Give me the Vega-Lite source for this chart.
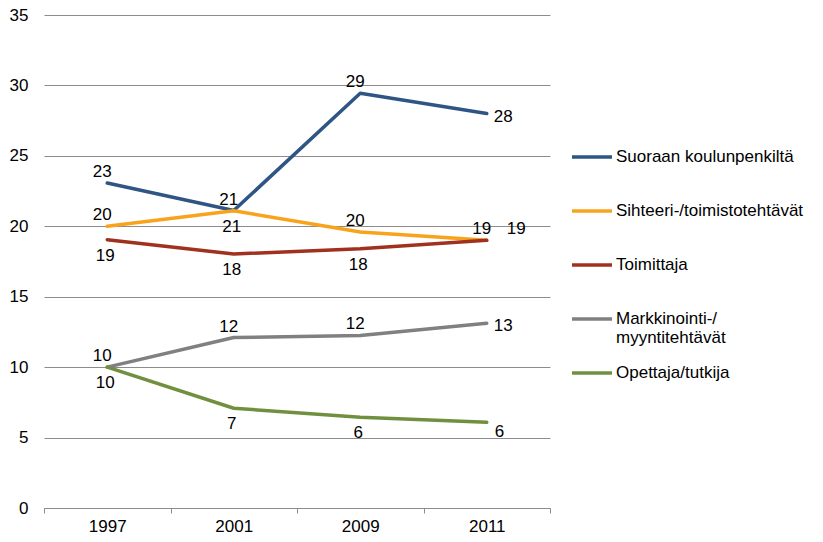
{
  "$schema": "https://vega.github.io/schema/vega-lite/v6.json",
  "width": 506,
  "height": 493,
  "autosize": "none",
  "padding": {"left": 44, "top": 15, "right": 273, "bottom": 34},
  "background": "white",
  "config": {
    "font": "Liberation Sans",
    "view": {"stroke": null},
    "text": {"font": "Liberation Sans", "fontSize": 17, "color": "#000"}
  },
  "data": {
    "values": [
      {"series": "Suoraan koulunpenkiltä", "year": "1997", "value": 23.07},
      {"series": "Suoraan koulunpenkiltä", "year": "2001", "value": 21.12},
      {"series": "Suoraan koulunpenkiltä", "year": "2009", "value": 29.44},
      {"series": "Suoraan koulunpenkiltä", "year": "2011", "value": 28.0},
      {"series": "Sihteeri-/toimistotehtävät", "year": "1997", "value": 20.0},
      {"series": "Sihteeri-/toimistotehtävät", "year": "2001", "value": 21.1},
      {"series": "Sihteeri-/toimistotehtävät", "year": "2009", "value": 19.6},
      {"series": "Sihteeri-/toimistotehtävät", "year": "2011", "value": 19.0},
      {"series": "Toimittaja", "year": "1997", "value": 19.05},
      {"series": "Toimittaja", "year": "2001", "value": 18.03},
      {"series": "Toimittaja", "year": "2009", "value": 18.4},
      {"series": "Toimittaja", "year": "2011", "value": 19.0},
      {"series": "Markkinointi-/myyntitehtävät", "year": "1997", "value": 10.0},
      {"series": "Markkinointi-/myyntitehtävät", "year": "2001", "value": 12.1},
      {"series": "Markkinointi-/myyntitehtävät", "year": "2009", "value": 12.25},
      {"series": "Markkinointi-/myyntitehtävät", "year": "2011", "value": 13.12},
      {"series": "Opettaja/tutkija", "year": "1997", "value": 10.0},
      {"series": "Opettaja/tutkija", "year": "2001", "value": 7.08},
      {"series": "Opettaja/tutkija", "year": "2009", "value": 6.44},
      {"series": "Opettaja/tutkija", "year": "2011", "value": 6.08}
    ]
  },
  "encoding": {
    "x": {
      "field": "year", "type": "ordinal", "bandPosition": 0.5,
      "scale": {"type": "band", "paddingInner": 0, "paddingOuter": 0},
      "axis": {
        "title": null, "labelAngle": 0, "labelFontSize": 17, "labelColor": "#000",
        "labelFont": "Liberation Sans", "domainColor": "#8c8c8c", "tickColor": "#8c8c8c",
        "tickSize": 5, "tickBand": "extent", "labelPadding": 5, "grid": false
      }
    },
    "y": {
      "field": "value", "type": "quantitative",
      "scale": {"domain": [0, 35], "nice": false},
      "axis": {
        "title": null, "values": [0, 5, 10, 15, 20, 25, 30, 35], "domain": false, "ticks": false,
        "grid": true, "gridColor": "#8c8c8c", "gridWidth": 1, "labelFontSize": 17,
        "labelColor": "#000", "labelFont": "Liberation Sans", "labelPadding": 16
      }
    }
  },
  "layer": [
    {
      "mark": {"type": "line", "strokeWidth": 3.5, "strokeCap": "round", "strokeJoin": "round"},
      "encoding": {
        "color": {
          "field": "series", "type": "nominal",
          "scale": {
            "domain": ["Suoraan koulunpenkiltä", "Sihteeri-/toimistotehtävät", "Toimittaja", "Markkinointi-/myyntitehtävät", "Opettaja/tutkija"],
            "range": ["#2f5584", "#f8a31c", "#a0311f", "#808080", "#71903f"]
          },
          "legend": {
            "title": null, "orient": "none", "legendX": 526, "legendY": 120,
            "symbolType": "stroke", "symbolSize": 1600, "symbolStrokeWidth": 3.5,
            "labelFontSize": 17, "labelFont": "Liberation Sans", "labelColor": "#000",
            "labelOffset": 2, "rowPadding": 5, "padding": 0, "labelLimit": 300,
            "gridAlign": "all",
            "labelExpr": "datum.label == 'Markkinointi-/myyntitehtävät' ? ['Markkinointi-/', 'myyntitehtävät'] : datum.label"
          }
        }
      }
    },
    {
      "transform": [{"filter": "(datum.series == 'Suoraan koulunpenkiltä' && datum.year != '2011') || (datum.series == 'Sihteeri-/toimistotehtävät' && datum.year != '2001') || (datum.series == 'Markkinointi-/myyntitehtävät' && datum.year != '2011')"}],
      "mark": {"type": "text", "dy": -11, "dx": -5, "baseline": "middle"},
      "encoding": {"text": {"field": "value", "type": "quantitative", "format": ".0f"}}
    },
    {
      "transform": [{"filter": "(datum.series == 'Sihteeri-/toimistotehtävät' && datum.year == '2001') || (datum.series == 'Toimittaja' && datum.year != '2011') || (datum.series == 'Opettaja/tutkija' && datum.year != '2011')"}],
      "mark": {"type": "text", "dy": 16, "dx": -2, "baseline": "middle"},
      "encoding": {"text": {"field": "value", "type": "quantitative", "format": ".0f"}}
    },
    {
      "transform": [{"filter": "(datum.series == 'Suoraan koulunpenkiltä' || datum.series == 'Markkinointi-/myyntitehtävät') && datum.year == '2011'"}],
      "mark": {"type": "text", "dy": 3, "dx": 7, "align": "left", "baseline": "middle"},
      "encoding": {"text": {"field": "value", "type": "quantitative", "format": ".0f"}}
    },
    {
      "transform": [{"filter": "datum.series == 'Opettaja/tutkija' && datum.year == '2011'"}],
      "mark": {"type": "text", "dy": 10, "dx": 8, "align": "left", "baseline": "middle"},
      "encoding": {"text": {"field": "value", "type": "quantitative", "format": ".0f"}}
    },
    {
      "transform": [{"filter": "datum.series == 'Toimittaja' && datum.year == '2011'"}],
      "mark": {"type": "text", "dy": -11, "dx": 20, "align": "left", "baseline": "middle"},
      "encoding": {"text": {"field": "value", "type": "quantitative", "format": ".0f"}}
    }
  ]
}
